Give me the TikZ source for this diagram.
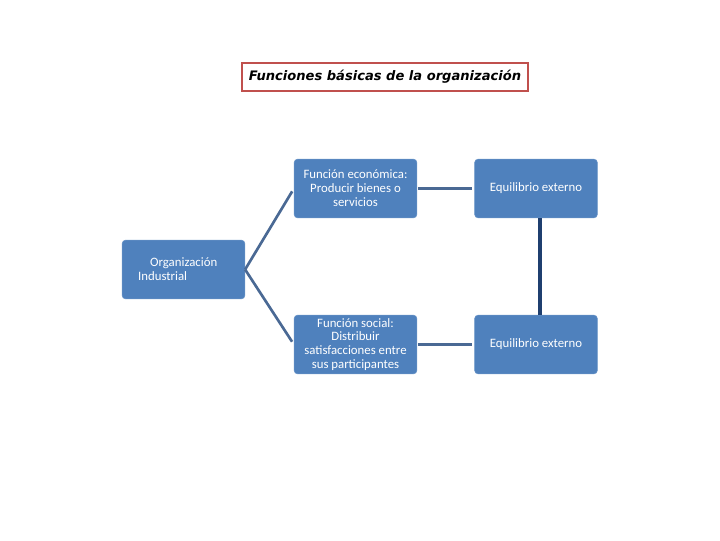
\documentclass[tikz,border=0pt]{standalone}
\usepackage{fontspec}
\setmainfont{Carlito}
\newfontfamily\titlefont{DejaVu Sans}
\usetikzlibrary{calc, positioning}
\definecolor{boxblue}{HTML}{4F81BD}
\definecolor{linkblue}{HTML}{4A6994}
\definecolor{darkblue}{HTML}{1F3F6F}
\definecolor{titlered}{HTML}{C0504D}

\tikzset{
  funcbox/.style={rectangle, rounded corners=2.5pt, fill=boxblue, draw=boxblue!85!white,
    text=white, minimum width=92pt, minimum height=44pt, inner sep=2pt,
    font=\fontsize{9.6}{10.4}\selectfont, align=center},
  link/.style={draw=linkblue, line width=2pt}
}

\begin{document}
\begin{tikzpicture}[x=0.75pt, y=-0.75pt]
			\useasboundingbox (0,0) rectangle (720,540);
			\node[draw=titlered, line width=1.5pt, minimum width=215pt, minimum height=20.5pt,
			  font=\titlefont\bfseries\itshape\fontsize{9.8}{11}\selectfont] (title) at (385,77)
			  {Funciones básicas de la organización};
			\node[funcbox, align=left, text width=68pt] (org) at (183.5,269.5) {\hspace{9pt}Organización\\Industrial};
			\node[funcbox] (fe) at (355.5,188.5) {Función económica:\\Producir bienes o\\servicios};
			\node[funcbox] (fs) at (355.5,344.5) {Función social:\\Distribuir\\satisfacciones entre\\sus participantes};
			\node[funcbox] (eqa) at (536,188.5) {Equilibrio externo};
			\node[funcbox] (eqb) at (536,344.5) {Equilibrio externo};
			% links
			\draw[link, shorten >=2.5pt] (org.east) -- (fe.west);
			\draw[link, shorten >=2.5pt] (org.east) -- (fs.west);
			\draw[link, shorten <=0.5pt, shorten >=2pt] (fe.east) -- (eqa.west);
			\draw[link, shorten <=0.5pt, shorten >=2pt] (fs.east) -- (eqb.west);
			\draw[darkblue, line width=3pt] ($(eqa.south)+(4,0)$) -- ($(eqb.north)+(4,0)$);
		\end{tikzpicture}
\end{document}
